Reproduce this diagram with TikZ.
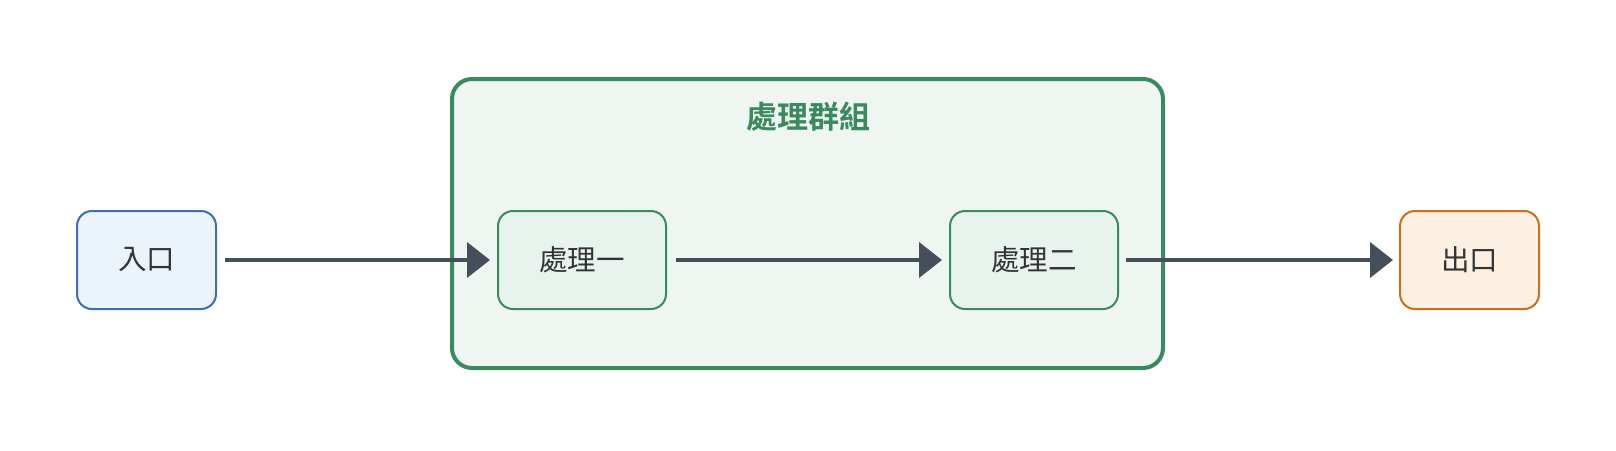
\documentclass[tikz,border=0pt]{standalone}
\usepackage{fontspec}
\setmainfont{Noto Sans CJK TC}
\newfontfamily\cjkb{Noto Sans CJK TC}[BoldFont={* Bold}]
\usetikzlibrary{arrows.meta,positioning}
\definecolor{inblue}{HTML}{3D6EB4}
\definecolor{infill}{HTML}{EBF3FB}
\definecolor{grpgreen}{HTML}{3A8A5F}
\definecolor{grpfill}{HTML}{EFF6F1}
\definecolor{boxfill}{HTML}{E7F3EC}
\definecolor{outorange}{HTML}{CC6F1B}
\definecolor{outfill}{HTML}{FCF0E2}
\definecolor{arrowc}{HTML}{444F5A}
\definecolor{txt}{HTML}{333333}
\tikzset{
  basebox/.style={rectangle, rounded corners=15pt, line width=2pt, inner sep=0pt, outer sep=0pt,
    minimum height=98pt, text=txt, font=\fontsize{28.5pt}{32pt}\selectfont},
  entrybox/.style={basebox, draw=inblue, fill=infill, minimum width=139pt},
  procbox/.style={basebox, draw=grpgreen, fill=boxfill, minimum width=168pt},
  exitbox/.style={basebox, draw=outorange, fill=outfill, minimum width=139pt},
  flow/.style={draw=arrowc, line width=4pt, -{Triangle[length=23pt 0 0, width=35pt 0 0]}},
}
\begin{document}
\begin{tikzpicture}[x=1pt, y=-1pt]
\useasboundingbox (0,0) rectangle (1616,450);
\fill[white] (0,0) rectangle (1616,450);
\draw[grpgreen, fill=grpfill, line width=4pt, rounded corners=20pt] (452,79) rectangle (1163,368);
\node[text=grpgreen, font=\cjkb\bfseries\fontsize{31pt}{34pt}\selectfont] (title) at (808,117) {處理群組};
\node[entrybox] (in) at (146.5,260) {入口};
\node[procbox] (p1) at (582,260) {處理一};
\node[procbox] (p2) at (1034,260) {處理二};
\node[exitbox] (out) at (1469.5,260) {出口};
\draw[flow, shorten <=9pt, shorten >=8pt] (in.east) -- (p1.west);
\draw[flow, shorten <=10pt, shorten >=8pt] (p1.east) -- (p2.west);
\draw[flow, shorten <=8pt, shorten >=7pt] (p2.east) -- (out.west);
\end{tikzpicture}
\end{document}
